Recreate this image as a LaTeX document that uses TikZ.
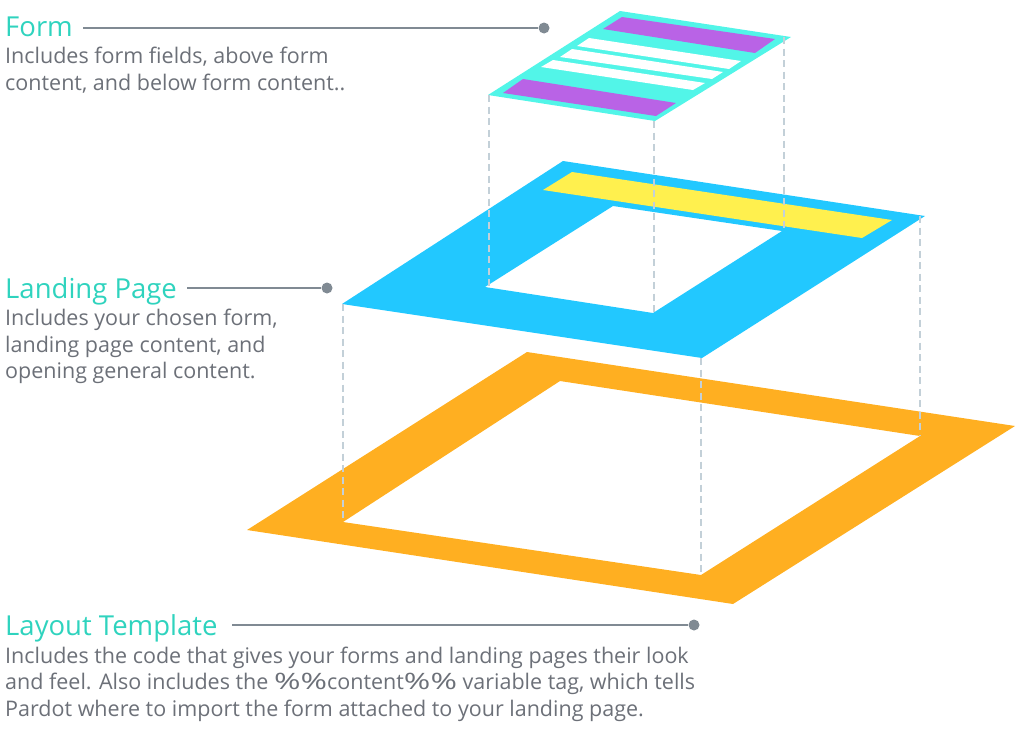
\documentclass[tikz,border=0pt]{standalone}
\usepackage{fontspec}
\setmainfont{Open Sans}
\definecolor{teal1}{HTML}{2FD3BE}
\definecolor{body1}{HTML}{6C7078}
\definecolor{lead1}{HTML}{808A93}
\definecolor{dash1}{HTML}{C3D0D8}
\definecolor{aqua1}{HTML}{52F5E8}
\definecolor{purp1}{HTML}{B963E6}
\definecolor{blue1}{HTML}{22C8FF}
\definecolor{yell1}{HTML}{FFF04E}
\definecolor{oran1}{HTML}{FFAF21}
\newcommand{\widepc}{\scalebox{1.5}[1.05]{\%}}
\tikzset{
  x=1pt,y=-1pt,
  titletext/.style={anchor=base west,inner sep=0pt,text=teal1,font=\fontsize{27.5}{27.5}\selectfont},
  bodytext/.style={anchor=base west,inner sep=0pt,text=body1,font=\fontsize{21.5}{21.5}\selectfont},
  leader/.style={draw=lead1,line width=1.8pt},
  enddot/.style={circle,fill=lead1,inner sep=0pt,minimum size=11pt},
  drop/.style={draw=dash1,line width=1.8pt,dash pattern=on 7pt off 4.5pt},
}
\begin{document}
\begin{tikzpicture}
\useasboundingbox (0,0) rectangle (1024,737);
% layout template
\fill[oran1,even odd rule] (527,352) -- (1015,426) -- (733,604) -- (247,530) -- cycle
  (560,381) -- (920,436) -- (701,575) -- (343,522) -- cycle;
% landing page
\fill[blue1,even odd rule] (563,161) -- (925,216) -- (702,358) -- (342,304) -- cycle
  (613,206) -- (782,231) -- (653,313) -- (485,287) -- cycle;
\fill[yell1] (572,172) -- (892,220) -- (862,238) -- (543,190) -- cycle;
% form
\fill[aqua1] (620,11) -- (791,37) -- (655,121) -- (488,95) -- cycle;
\fill[purp1] (622,17) -- (775,39) -- (755,53) -- (603,29) -- cycle;
\fill[white] (589,38) -- (741,61) -- (729,69) -- (577,46) -- cycle;
\fill[white] (572,49) -- (723,72) -- (712,79) -- (560,57) -- cycle;
\fill[white] (553,60) -- (705,83) -- (693,90) -- (541,67) -- cycle;
\fill[purp1] (523,79) -- (676,103) -- (656,116) -- (503,93) -- cycle;
% dashed drops
\coordinate (fa) at (489,95);  \coordinate (ha) at (489,287);
\coordinate (fb) at (654,121); \coordinate (hb) at (654,313);
\coordinate (fc) at (784,37);  \coordinate (hc) at (784,231);
\coordinate (la) at (343,304); \coordinate (oa) at (343,522);
\coordinate (lb) at (701,358); \coordinate (ob) at (701,575);
\coordinate (lc) at (920,216); \coordinate (oc) at (920,436);
\draw[drop] (fa) -- (ha);
\draw[drop] (fb) -- (hb);
\draw[drop] (fc) -- (hc);
\draw[drop] (la) -- (oa);
\draw[drop] (lb) -- (ob);
\draw[drop] (lc) -- (oc);
% labels
\node[titletext] (t1) at (5,36) {Form};
\node[bodytext] (b11) at (5,63) {Includes form fields, above form};
\node[bodytext] (b12) at (5,90) {content, and below form content..};
\node[enddot] (d1) at (544,28) {};
\coordinate (s1) at (83,28);
\draw[leader] (s1) -- (d1);
\node[titletext] (t2) at (5,298) {Landing Page};
\node[bodytext] (b21) at (5,325) {Includes your chosen form,};
\node[bodytext] (b22) at (5,352) {landing page content, and};
\node[bodytext] (b23) at (5,378) {opening general content.};
\node[enddot] (d2) at (327,288) {};
\coordinate (s2) at (187,288);
\draw[leader] (s2) -- (d2);
\node[titletext] (t3) at (5,635) {Layout Template};
\node[bodytext] (b31) at (5,663) {Includes the code that gives your forms and landing pages their look};
\node[bodytext] (b32) at (5,689) {and feel. Also includes the \widepc\widepc content\widepc\widepc{} variable tag, which tells};
\node[bodytext] (b33) at (5,716) {Pardot where to import the form attached to your landing page.};
\node[enddot] (d3) at (694,625) {};
\coordinate (s3) at (232,625);
\draw[leader] (s3) -- (d3);
\end{tikzpicture}
\end{document}
